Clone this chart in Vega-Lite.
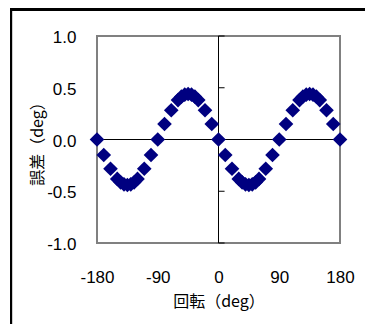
{
  "$schema": "https://vega.github.io/schema/vega-lite/v6.json",
  "width": 243,
  "height": 207,
  "autosize": {"type": "none"},
  "padding": {"left": 97, "top": 36, "right": 25, "bottom": 81},
  "background": "white",
  "config": {"view": {"stroke": "#808080", "strokeWidth": 2}, "font": "Liberation Sans"},
  "data": {"values": [
    {"deg": -180, "err": 0}, {"deg": -170, "err": -0.15}, {"deg": -160, "err": -0.283},
    {"deg": -150, "err": -0.381}, {"deg": -145, "err": -0.414}, {"deg": -140, "err": -0.433}, {"deg": -135, "err": -0.44},
    {"deg": -130, "err": -0.433}, {"deg": -125, "err": -0.414}, {"deg": -120, "err": -0.381},
    {"deg": -110, "err": -0.283}, {"deg": -100, "err": -0.15}, {"deg": -90, "err": 0},
    {"deg": -80, "err": 0.15}, {"deg": -70, "err": 0.283},
    {"deg": -60, "err": 0.381}, {"deg": -55, "err": 0.414}, {"deg": -50, "err": 0.433}, {"deg": -45, "err": 0.44},
    {"deg": -40, "err": 0.433}, {"deg": -35, "err": 0.414}, {"deg": -30, "err": 0.381},
    {"deg": -20, "err": 0.283}, {"deg": -10, "err": 0.15}, {"deg": 0, "err": 0},
    {"deg": 10, "err": -0.15}, {"deg": 20, "err": -0.283},
    {"deg": 30, "err": -0.381}, {"deg": 35, "err": -0.414}, {"deg": 40, "err": -0.433}, {"deg": 45, "err": -0.44},
    {"deg": 50, "err": -0.433}, {"deg": 55, "err": -0.414}, {"deg": 60, "err": -0.381},
    {"deg": 70, "err": -0.283}, {"deg": 80, "err": -0.15}, {"deg": 90, "err": 0},
    {"deg": 100, "err": 0.15}, {"deg": 110, "err": 0.283},
    {"deg": 120, "err": 0.381}, {"deg": 125, "err": 0.414}, {"deg": 130, "err": 0.433}, {"deg": 135, "err": 0.44},
    {"deg": 140, "err": 0.433}, {"deg": 145, "err": 0.414}, {"deg": 150, "err": 0.381},
    {"deg": 160, "err": 0.283}, {"deg": 170, "err": 0.15}, {"deg": 180, "err": 0}
  ]},
  "layer": [
    {
      "mark": {"type": "point", "shape": "diamond", "filled": true, "color": "#000080", "size": 215, "opacity": 0},
      "encoding": {
        "x": {
          "field": "deg", "type": "quantitative",
          "scale": {"domain": [-180, 180], "nice": false, "zero": false},
          "axis": {
            "values": [-180, -90, 0, 90, 180], "domain": false, "ticks": false, "tickSize": 0, "grid": false,
            "labelPadding": 26, "labelFontSize": 17, "labelColor": "black", "labelFont": "Liberation Sans",
            "labelExpr": "(datum.value < 0 ? '-' : '') + format(abs(datum.value), 'd')",
            "labelFlush": false, "labelOverlap": false,
            "title": "回転（deg）", "titleFont": "Noto Sans CJK JP", "titleFontSize": 16, "titleFontWeight": "normal",
            "titleColor": "black", "titleBaseline": "alphabetic", "titleY": 63, "titleX": 121.5
          }
        },
        "y": {
          "field": "err", "type": "quantitative",
          "scale": {"domain": [-1, 1], "nice": false, "zero": false},
          "axis": {
            "values": [-1, -0.5, 0, 0.5, 1], "domain": false, "ticks": false, "tickSize": 0, "grid": false,
            "labelPadding": 21, "labelFontSize": 17, "labelColor": "black", "labelFont": "Liberation Sans",
            "labelExpr": "(datum.value < 0 ? '-' : '') + format(abs(datum.value), '.1f')",
            "labelFlush": false, "labelOverlap": false, "labelOffset": 1.5,
            "title": "誤差（deg）", "titleFont": "Noto Sans CJK JP", "titleFontSize": 16, "titleFontWeight": "normal",
            "titleColor": "black", "titleAngle": -90, "titleBaseline": "middle", "titleAlign": "center",
            "titleX": -60, "titleY": 103.5
          }
        }
      }
    },
    {
      "mark": {"type": "rect", "fillOpacity": 0, "stroke": "black", "strokeWidth": 2},
      "encoding": {
        "x": {"datum": -307.4, "type": "quantitative"},
        "x2": {"datum": 260},
        "y": {"datum": 1.258, "type": "quantitative"},
        "y2": {"datum": -2}
      }
    },
    {
      "mark": {"type": "rule", "color": "black", "strokeWidth": 1},
      "encoding": {
        "y": {"datum": 0, "type": "quantitative"}
      }
    },
    {
      "mark": {"type": "rule", "color": "black", "strokeWidth": 1},
      "encoding": {
        "x": {"datum": 0, "type": "quantitative"}
      }
    },
    {
      "data": {"values": [{"t": 1}, {"t": 0.5}, {"t": -0.5}, {"t": -1}]},
      "mark": {"type": "rule", "color": "black", "strokeWidth": 1},
      "encoding": {
        "x": {"datum": 0, "type": "quantitative"},
        "x2": {"datum": 9},
        "y": {"field": "t", "type": "quantitative"}
      }
    },
    {
      "mark": {"type": "point", "shape": "diamond", "filled": true, "color": "#000080", "size": 215, "opacity": 1},
      "encoding": {
        "x": {"field": "deg", "type": "quantitative"},
        "y": {"field": "err", "type": "quantitative"}
      }
    }
  ]
}
